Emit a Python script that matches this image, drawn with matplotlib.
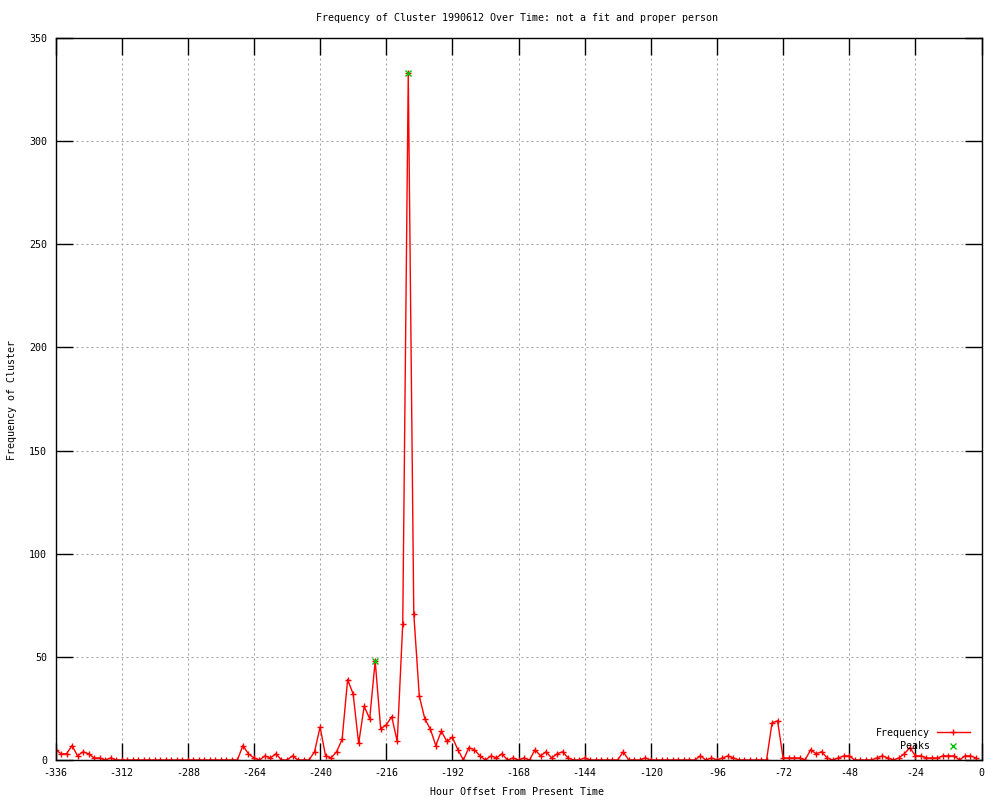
import numpy as np
import matplotlib
matplotlib.use("Agg")
import matplotlib.pyplot as plt
from matplotlib.lines import Line2D

plt.rcParams['font.family'] = ['DejaVu Sans Mono']
plt.rcParams['axes.unicode_minus'] = False

# data: one count every 2 hours, from -336 to -2
hours = np.arange(-336, 0, 2)
freq = [5, 3, 3, 7, 2, 4, 3, 1, 1, 0, 1,
        0, 0, 0, 0, 0, 0, 0, 0, 0, 0, 0, 0, 0, 0, 0, 0, 0, 0, 0, 0, 0, 0, 0,
        7, 3, 1, 0, 2, 1, 3, 0, 0,
        2, 0, 0, 0, 4, 16, 2, 1, 4, 10,
        39, 32, 8, 26, 20, 48, 15, 17, 21, 9,
        66, 333, 71, 31, 20, 15, 7, 14, 9, 11,
        5, 0, 6, 5, 2, 0, 2, 1, 3, 0,
        1, 0, 1, 0, 5, 2, 4, 1, 3, 4,
        1, 0, 0, 1, 0, 0, 0, 0, 0, 0,
        4, 0, 0, 0, 1, 0, 0, 0, 0, 0,
        0, 0, 0, 0, 2, 0, 1, 0, 1, 2,
        1, 0, 0, 0, 0, 0, 0, 18, 19, 1,
        1, 1, 1, 0, 5, 3, 4, 1, 0, 1,
        2, 2, 0, 0, 0, 0, 1, 2, 1, 0,
        1, 3, 6, 2, 2, 1, 1, 1, 2, 2,
        2, 0, 2, 2, 1]
peak_hours = [-220, -208]
peak_vals = [48, 333]

xticks = np.arange(-336, 1, 24)
yticks = np.arange(0, 351, 50)

fig = plt.figure(figsize=(10, 8), dpi=100)
ax = fig.add_axes([0.0555, 0.05, 0.926, 0.9025])

ax.plot(hours, freq, color='red', lw=1, marker='+', ms=5, mew=1)
ax.plot(peak_hours, peak_vals, ls='none', color='#00c000', marker='x', ms=5, mew=1)

ax.set_xlim(-336, 0)
ax.set_ylim(0, 350)
ax.set_xticks(xticks)
ax.set_yticks(yticks)
ax.set_xticklabels([str(t) for t in xticks])
ax.set_yticklabels([str(t) for t in yticks])
ax.tick_params(direction='in', length=12, width=1, labelsize=7.2,
               top=True, right=True, pad=6)
ax.grid(True, color='#a0a0a0', lw=0.72, ls=(0, (2, 3)))
for s in ax.spines.values():
    s.set_linewidth(1)

fs = 7.2
fig.text(0.5175, 1 - 18 / 800, 'Frequency of Cluster 1990612 Over Time: not a fit and proper person',
         ha='center', va='center', fontsize=fs)
fig.text(0.5175, 1 - 792 / 800, 'Hour Offset From Present Time', ha='center', va='center', fontsize=fs)
fig.text(0.012, 0.5, 'Frequency of Cluster', rotation=90, ha='center', va='center', fontsize=fs)

# gnuplot style key, bottom right
fig.text(0.930, 1 - 733 / 800, 'Frequency', ha='right', va='center', fontsize=fs)
fig.text(0.930, 1 - 746 / 800, 'Peaks', ha='right', va='center', fontsize=fs)
fig.add_artist(Line2D([0.937, 0.970], [1 - 732 / 800] * 2, color='red', lw=1))
fig.add_artist(Line2D([0.953], [1 - 732 / 800], color='red', marker='+', ms=5, mew=1))
fig.add_artist(Line2D([0.953], [1 - 746 / 800], color='#00c000', marker='x', ms=5, mew=1))

fig.savefig('out.png', dpi=100)
